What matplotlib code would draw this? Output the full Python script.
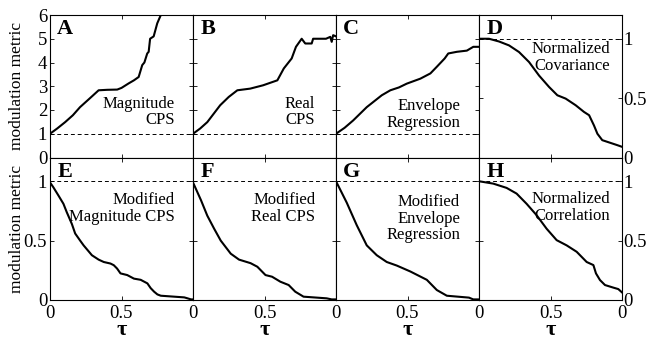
#!/usr/bin/env python3
"""Modulation metric vs tau, eight panels (A-H)."""

import matplotlib
matplotlib.use('Agg')
import matplotlib.pyplot as plt

plt.rcParams['font.family'] = ['Liberation Serif', 'DejaVu Serif']

# top row: A, B, C (0..6 scale), D (0..1.2 scale)
a_x = [0, 0.05, 0.106, 0.16, 0.21, 0.28, 0.34, 0.40, 0.47, 0.5, 0.55, 0.587, 0.62, 0.645,
       0.66, 0.68, 0.69, 0.70, 0.725, 0.75, 0.775, 0.85, 1.0]
a_y = [1.0, 1.22, 1.49, 1.78, 2.12, 2.5, 2.83, 2.85, 2.86, 2.93, 3.12, 3.25, 3.39, 3.89,
       4.0, 4.38, 4.45, 5.0, 5.1, 5.65, 6.0, 7.0, 8.0]

b_x = [0, 0.05, 0.1, 0.19, 0.25, 0.31, 0.40, 0.49, 0.59, 0.635, 0.69, 0.72, 0.76, 0.785,
       0.83, 0.84, 0.93, 0.96, 0.97, 0.98, 1.0]
b_y = [1.0, 1.22, 1.49, 2.2, 2.55, 2.83, 2.9, 3.04, 3.25, 3.75, 4.17, 4.66, 5.0, 4.8,
       4.8, 5.0, 5.0, 5.08, 4.87, 5.15, 5.1]

c_x = [0, 0.06, 0.12, 0.215, 0.32, 0.38, 0.44, 0.495, 0.59, 0.66, 0.705, 0.76, 0.785,
       0.845, 0.915, 0.96, 1.0]
c_y = [1.0, 1.25, 1.56, 2.12, 2.62, 2.83, 2.95, 3.11, 3.32, 3.54, 3.82, 4.17, 4.38,
       4.45, 4.5, 4.66, 4.66]

d_x = [0, 0.07, 0.14, 0.21, 0.28, 0.35, 0.42, 0.49, 0.548, 0.606, 0.676, 0.734, 0.77,
       0.804, 0.828, 0.862, 0.897, 0.932, 0.967, 1.0]
d_y = [1.0, 1.0, 0.977, 0.944, 0.888, 0.804, 0.69, 0.594, 0.524, 0.496, 0.44, 0.384,
       0.356, 0.27, 0.20, 0.146, 0.132, 0.118, 0.104, 0.09]

# bottom row: E, F, G, H (0..1.2 scale)
e_x = [0, 0.023, 0.059, 0.094, 0.117, 0.153, 0.176, 0.211, 0.235, 0.27, 0.293, 0.34,
       0.376, 0.423, 0.446, 0.469, 0.493, 0.54, 0.587, 0.634, 0.681, 0.704, 0.728, 0.751,
       0.775, 0.869, 0.939, 0.962, 0.986, 1.0]
e_y = [0.99, 0.95, 0.88, 0.81, 0.74, 0.64, 0.56, 0.50, 0.46, 0.41, 0.377, 0.34, 0.32,
       0.307, 0.293, 0.265, 0.224, 0.21, 0.18, 0.17, 0.14, 0.10, 0.07, 0.047, 0.036,
       0.028, 0.022, 0.014, 0.005, 0.005]

f_x = [0, 0.056, 0.1, 0.148, 0.194, 0.264, 0.322, 0.403, 0.45, 0.507, 0.553, 0.611,
       0.669, 0.715, 0.773, 0.843, 0.935, 0.97, 1.0]
f_y = [0.99, 0.84, 0.71, 0.60, 0.50, 0.39, 0.34, 0.31, 0.28, 0.21, 0.196, 0.154, 0.126,
       0.07, 0.028, 0.022, 0.014, 0.005, 0.005]

g_x = [0, 0.075, 0.145, 0.215, 0.285, 0.355, 0.425, 0.52, 0.635, 0.705, 0.775, 0.93,
       0.96, 1.0]
g_y = [1.0, 0.82, 0.63, 0.46, 0.377, 0.32, 0.29, 0.24, 0.17, 0.084, 0.036, 0.02, 0.005,
       0.005]

h_x = [0, 0.1, 0.193, 0.263, 0.333, 0.403, 0.473, 0.543, 0.613, 0.683, 0.753, 0.8,
       0.818, 0.846, 0.881, 0.94, 0.974, 1.0]
h_y = [1.0, 0.98, 0.944, 0.896, 0.81, 0.714, 0.60, 0.504, 0.46, 0.406, 0.32, 0.294,
       0.224, 0.168, 0.126, 0.104, 0.092, 0.064]

letters = ['A', 'B', 'C', 'D', 'E', 'F', 'G', 'H']
names = ['Magnitude\nCPS', 'Real\nCPS', 'Envelope\nRegression', 'Normalized\nCovariance',
         'Modified\nMagnitude CPS', 'Modified\nReal CPS', 'Modified\nEnvelope\nRegression',
         'Normalized\nCorrelation']
name_pos = [(0.87, 0.32), (0.855, 0.32), (0.867, 0.30), (0.916, 0.70),
            (0.87, 0.64), (0.855, 0.64), (0.867, 0.57), (0.916, 0.65)]

series = [(a_x, a_y), (b_x, b_y), (c_x, c_y), (d_x, d_y),
          (e_x, e_y), (f_x, f_y), (g_x, g_y), (h_x, h_y)]

fig, axes = plt.subplots(2, 4, figsize=(6.47, 3.42), dpi=100)
fig.subplots_adjust(left=50 / 647, right=622 / 647, top=1 - 15 / 342,
                    bottom=1 - 300 / 342, wspace=0, hspace=0)

for i, ax in enumerate(axes.flat):
    xs, ys = series[i]
    big = i < 3
    ax.plot(xs, ys, color='black', lw=1.5)
    ax.axhline(1.0, color='black', lw=0.7, ls=(0, (4, 3)))
    ax.set_xlim(0, 1)
    if big:
        ax.set_ylim(0, 6)
        ax.set_yticks([0, 1, 2, 3, 4, 5, 6])
    else:
        ax.set_ylim(0, 1.2)
        ax.set_yticks([0, 0.5, 1])
        ax.set_yticklabels(['0', '0.5', '1'])
    ax.set_xticks([0, 0.5, 1])
    ax.tick_params(direction='in', top=True, right=True, left=True, length=3,
                   width=0.6, labelsize=13.5, pad=2)
    ax.tick_params(axis='x', pad=3.5)
    for s in ax.spines.values():
        s.set_linewidth(0.8)

    ax.text(0.05, 0.97, letters[i], transform=ax.transAxes, fontsize=16,
            fontweight='bold', ha='left', va='top')
    nx, ny = name_pos[i]
    ax.text(nx, ny, names[i], transform=ax.transAxes, fontsize=12,
            ha='right', va='center', multialignment='right', linespacing=1.05)

    col = i % 4
    row = i // 4
    if col == 3:
        ax.tick_params(axis='y', labelleft=False, labelright=True, pad=1)
    elif col == 0:
        ax.tick_params(axis='y', labelleft=True)
    else:
        ax.tick_params(axis='y', labelleft=False)

    if row == 0:
        ax.tick_params(axis='x', labelbottom=False)
    else:
        if col == 3:
            ax.set_xticklabels(['0', '0.5', '0'])
        else:
            ax.set_xticklabels(['0', '0.5', ''])
        ax.set_xlabel('τ', fontsize=16, fontweight='bold', labelpad=-1)

for ax in axes[:, 0]:
    box = ax.get_position()
    fig.text(17 / 647, (box.y0 + box.y1) / 2, 'modulation metric', fontsize=12.5,
             rotation=90, ha='center', va='center')

fig.savefig('out.png', dpi=100)
plt.close(fig)
